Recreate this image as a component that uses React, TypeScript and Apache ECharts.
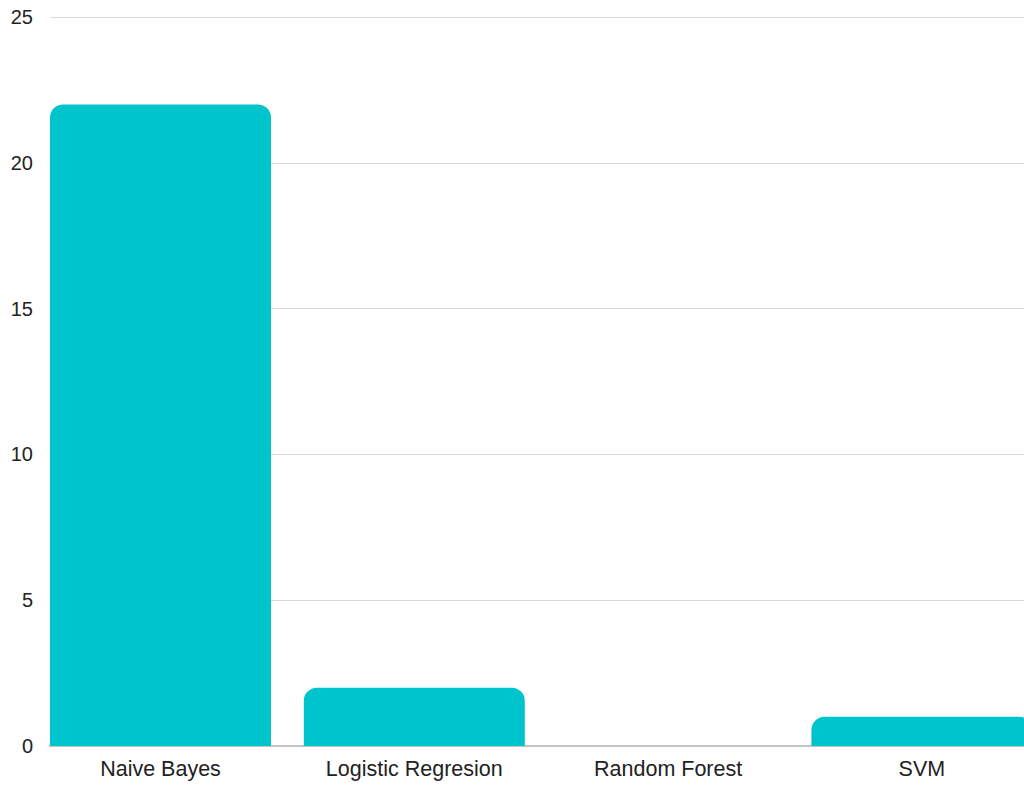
import React, { useEffect, useRef } from "react";
import * as echarts from "echarts";

const categories = ["Naive Bayes", "Logistic Regresion", "Random Forest", "SVM"];
const values = [22, 2, 0, 1];
const yTicks = { min: 0, max: 25, interval: 5 };

export default function App() {
  const ref = useRef<HTMLDivElement>(null);
  useEffect(() => {
    if (!ref.current) return;
    const chart = echarts.init(ref.current, null, { renderer: "svg" });
    const font = "'Liberation Sans', Arial, sans-serif";
    chart.setOption({
      animation: false,
      backgroundColor: "#ffffff",
      grid: [
        { left: 50, right: 26, top: 17, height: 729 },
        { left: 33.6, width: 1015.2, top: 17, height: 729 },
      ],
      xAxis: [
        {
          gridIndex: 0,
          type: "category",
          data: categories,
          axisLine: { show: true, lineStyle: { color: "#c4c4c4", width: 2 } },
          axisTick: { show: false },
          axisLabel: { show: false },
          splitLine: { show: false },
        },
        {
          gridIndex: 1,
          type: "category",
          data: categories,
          axisLine: { show: false },
          axisTick: { show: false },
          axisLabel: {
            show: true,
            color: "#222",
            fontSize: 21.5,
            fontFamily: font,
            margin: 12,
            interval: 0,
          },
        },
      ],
      yAxis: [
        {
          gridIndex: 0,
          type: "value",
          min: yTicks.min,
          max: yTicks.max,
          interval: yTicks.interval,
          axisLine: { show: false },
          axisTick: { show: false },
          axisLabel: { color: "#222", fontSize: 20, fontFamily: font, margin: 17 },
          splitLine: { show: true, lineStyle: { color: "#d9d9d9", width: 1 } },
        },
        {
          gridIndex: 1,
          type: "value",
          min: yTicks.min,
          max: yTicks.max,
          interval: yTicks.interval,
          show: false,
          splitLine: { show: false },
        },
      ],
      series: [
        {
          type: "bar",
          xAxisIndex: 1,
          yAxisIndex: 1,
          data: values,
          barWidth: 221,
          itemStyle: { color: "#00c4cc", borderRadius: [13, 13, 0, 0] },
        },
      ],
    });
    return () => chart.dispose();
  }, []);
  return (
    <div
      style={{
        position: "absolute",
        left: 0,
        top: 0,
        width: 1024,
        height: 786,
        overflow: "hidden",
      }}
    >
      <div ref={ref} style={{ width: 1050, height: 786 }} />
    </div>
  );
}
